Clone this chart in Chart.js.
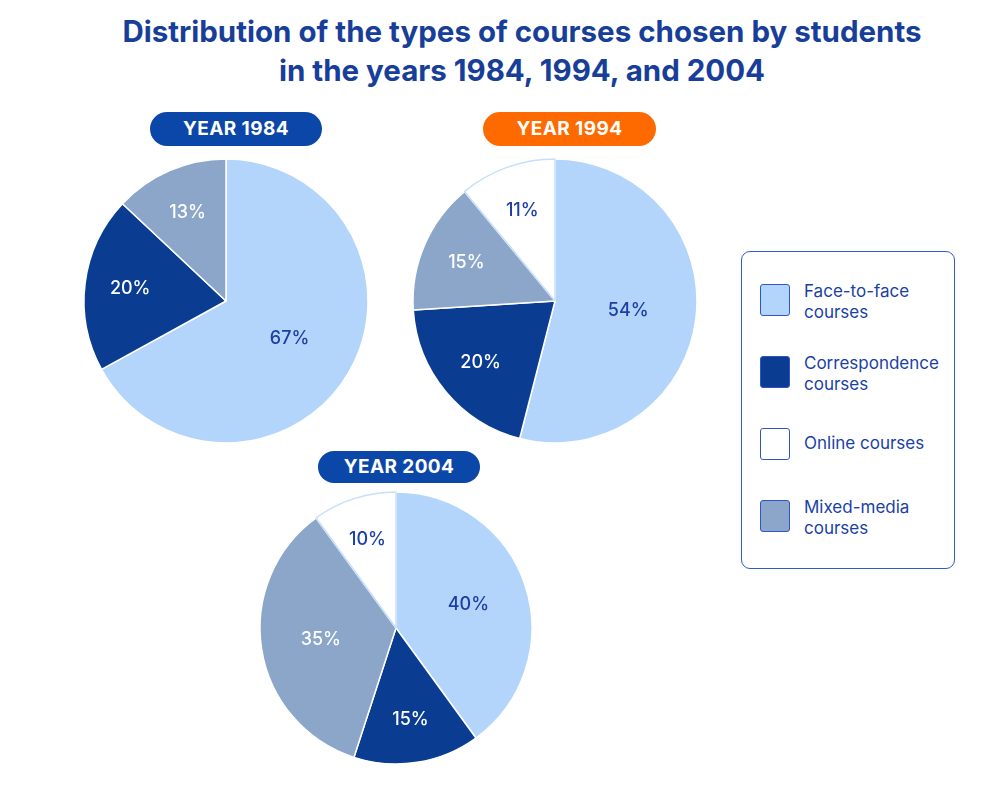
<!DOCTYPE html>
<html>
<head>
<meta charset="utf-8">
<script src="https://cdn.jsdelivr.net/npm/chart.js@4/dist/chart.umd.min.js"></script>
<style>
  body { margin: 0; background: #ffffff; font-family: Inter, "Noto Sans", sans-serif; }
  #wrap { position: relative; width: 1000px; height: 800px; }
  #title { position: absolute; left: 0; top: 12px; width: 1044px; text-align: center;
    color: #173e98; font-weight: 700; font-size: 29.5px; line-height: 39px; }
  .badge { position: absolute; height: 34px; line-height: 34px; border-radius: 17px; color: #fff;
    font-weight: 700; font-size: 19px; text-align: center; letter-spacing: 0.4px; }
  canvas { position: absolute; }
  #legend { position: absolute; left: 741px; top: 251px; width: 214px; height: 318px;
    border: 1.5px solid #2f5ad0; border-radius: 9px; box-sizing: border-box; }
  .item { position: absolute; left: 18px; }
  .sw { position: absolute; left: 0; top: 0; width: 30px; height: 32px; border-radius: 3px;
    border: 1.5px solid #2f55c8; box-sizing: border-box; }
  .txt { position: absolute; left: 44px; top: -3px; width: 170px; color: #1a3fa8; font-size: 17px; line-height: 21px; }
</style>
</head>
<body>
<div id="wrap">
  <div id="title">Distribution of the types of courses chosen by students<br>in the years 1984, 1994, and 2004</div>
  <div class="badge" style="left:150px; top:112px; width:172px; background:#0b47a8;">YEAR 1984</div>
  <div class="badge" style="left:483px; top:112px; width:173px; background:#ff6a00;">YEAR 1994</div>
  <div class="badge" style="left:318px; top:451px; width:162px; height:32px; line-height:32px; background:#0b47a8;">YEAR 2004</div>
  <canvas id="c1984" width="300" height="300" style="left:76px; top:151px; width:300px; height:300px;"></canvas>
  <canvas id="c1994" width="300" height="300" style="left:405px; top:151px; width:300px; height:300px;"></canvas>
  <canvas id="c2004" width="300" height="300" style="left:246px; top:478px; width:300px; height:300px;"></canvas>
  <div id="legend"></div>
</div>
<script>
// slice order clockwise from 12 o'clock
var categories = ['Face-to-face courses', 'Correspondence courses', 'Mixed-media courses', 'Online courses'];
var legendOrder = [0, 1, 3, 2];
var legendLines = [['Face-to-face', 'courses'], ['Correspondence', 'courses'], ['Online courses'], ['Mixed-media', 'courses']];
var values1984 = [67, 20, 13, 0];
var values1994 = [54, 20, 15, 11];
var values2004 = [40, 15, 35, 10];

var fills = ['#b4d5fb', '#0a3d92', '#8ba6c9', '#ffffff'];
var edges = ['#ffffff', '#ffffff', '#ffffff', '#c8dff9'];
var textColors = ['#1c3fa6', '#ffffff', '#ffffff', '#1c3fa6'];

var sliceLabels = {
  id: 'sliceLabels',
  afterDatasetsDraw: function (chart) {
    var ctx = chart.ctx;
    var meta = chart.getDatasetMeta(0);
    var data = chart.data.datasets[0].data;
    ctx.save();
    ctx.font = '500 18px Inter, sans-serif';
    ctx.textAlign = 'center';
    ctx.textBaseline = 'middle';
    meta.data.forEach(function (arc, i) {
      var v = data[i];
      if (!v) return;
      var p = arc.getProps(['x', 'y', 'startAngle', 'endAngle', 'outerRadius']);
      var mid = (p.startAngle + p.endAngle) / 2;
      var f = v >= 50 ? 0.52 : (v >= 30 ? 0.56 : 0.68);
      var r = p.outerRadius * f;
      ctx.fillStyle = textColors[i];
      ctx.fillText(v + '%', p.x + Math.cos(mid) * r, p.y + Math.sin(mid) * r);
    });
    ctx.restore();
  }
};

function renderPie(canvasId, values, radius) {
  var ctx = document.getElementById(canvasId).getContext('2d');
  return new Chart(ctx, {
    type: 'pie',
    data: {
      labels: categories,
      datasets: [{
        data: values,
        backgroundColor: fills,
        borderColor: edges,
        borderWidth: 1.5,
        radius: radius
      }]
    },
    options: {
      responsive: false,
      animation: false,
      layout: { padding: 0 },
      plugins: { legend: { display: false }, tooltip: { enabled: false } }
    },
    plugins: [sliceLabels]
  });
}

renderPie('c1984', values1984, 142);
renderPie('c1994', values1994, 142);
renderPie('c2004', values2004, 136);

var legend = document.getElementById('legend');
legendOrder.forEach(function (idx, k) {
  var item = document.createElement('div');
  item.className = 'item';
  item.style.top = (32 + k * 72) + 'px';
  var sw = document.createElement('div');
  sw.className = 'sw';
  sw.style.background = fills[idx];
  var txt = document.createElement('div');
  txt.className = 'txt';
  txt.innerHTML = legendLines[k].join('<br>');
  if (legendLines[k].length === 1) txt.style.top = '5px';
  item.appendChild(sw);
  item.appendChild(txt);
  legend.appendChild(item);
});
</script>
</body>
</html>
